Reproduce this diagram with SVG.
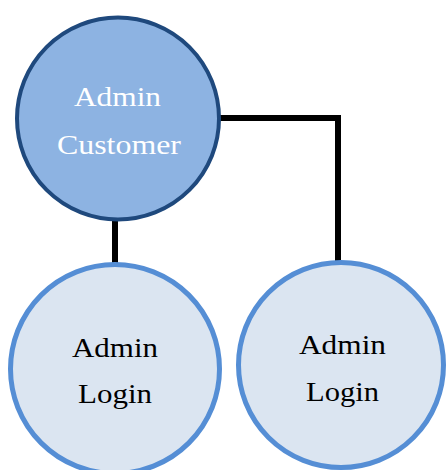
<svg xmlns="http://www.w3.org/2000/svg" width="446" height="470" viewBox="0 0 446 470">
<style>
.top{fill:#8DB3E2;stroke:#1F497D;stroke-width:4}
.sub{fill:#DBE5F1;stroke:#558ED5;stroke-width:5}
.lbl{font-family:"Liberation Serif","Times New Roman",serif;font-size:27px}
.w{fill:#FFFFFF}
.k{fill:#000000}
.con{fill:none;stroke:#000000;stroke-width:6}
</style>
<rect width="446" height="470" fill="#FFFFFF"/>
<g id="connectors">
<polyline class="con" points="219,118 338,118 338,262"/>
<line class="con" x1="115" y1="221" x2="115" y2="264"/>
</g>
<g id="admin-customer">
<circle class="top" cx="118" cy="118.5" r="101"/>
<text class="lbl w" x="74" y="106" textLength="87" lengthAdjust="spacingAndGlyphs">Admin</text>
<text class="lbl w" x="57" y="154" textLength="124" lengthAdjust="spacingAndGlyphs">Customer</text>
</g>
<g id="admin-login-1">
<circle class="sub" cx="115" cy="369" r="104.5"/>
<text class="lbl k" x="72" y="357" textLength="86" lengthAdjust="spacingAndGlyphs">Admin</text>
<text class="lbl k" x="78" y="403" textLength="74" lengthAdjust="spacingAndGlyphs">Login</text>
</g>
<g id="admin-login-2">
<circle class="sub" cx="341" cy="365" r="102.5"/>
<text class="lbl k" x="299" y="354" textLength="87" lengthAdjust="spacingAndGlyphs">Admin</text>
<text class="lbl k" x="306" y="401" textLength="73" lengthAdjust="spacingAndGlyphs">Login</text>
</g>
</svg>
